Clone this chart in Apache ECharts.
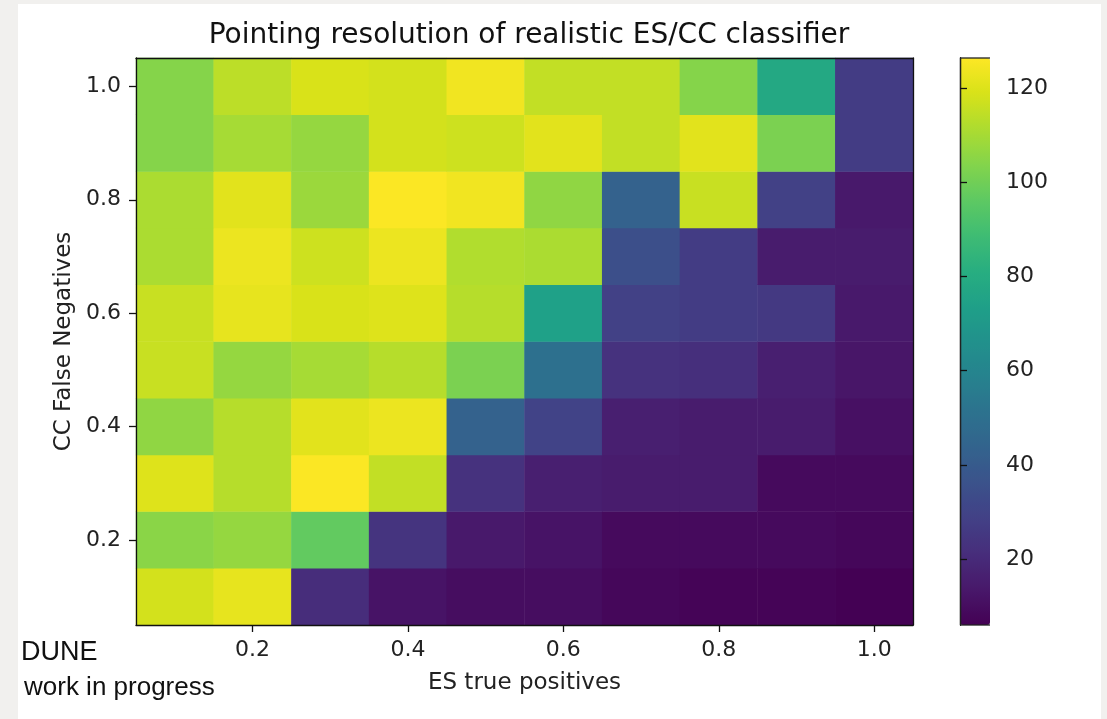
<!DOCTYPE html>
<html>
<head>
<meta charset="utf-8">
<script src="https://cdn.jsdelivr.net/npm/echarts@6/dist/echarts.min.js"></script>
<style>
  html, body { margin: 0; padding: 0; background: #f1f0ee; }
  #card { position: absolute; left: 18px; top: 4px; width: 1083px; height: 715px; background: #ffffff; }
  #chart { position: absolute; left: 0; top: 0; width: 1107px; height: 719px; }
</style>
</head>
<body>
<div id="card"></div>
<div id="chart"></div>
<script>
// ES true positives (x categories)
const xCats = ['0.1','0.2','0.3','0.4','0.5','0.6','0.7','0.8','0.9','1.0'];
// CC false negatives (y categories, bottom to top)
const yCats = ['0.1','0.2','0.3','0.4','0.5','0.6','0.7','0.8','0.9','1.0'];
// Pointing resolution values, one row per y category (bottom row first), columns follow xCats
const row01 = [118, 122, 21, 12, 10, 10, 8, 7, 7, 6];
const row02 = [105, 107, 97, 24, 14, 12, 9, 9, 9, 8];
const row03 = [120, 113, 126, 115, 23, 16, 15, 15, 9, 9];
const row04 = [106, 113, 121, 123, 43, 30, 16, 15, 15, 11];
const row05 = [116, 107, 110, 113, 102, 50, 23, 22, 16, 13];
const row06 = [116, 122, 119, 120, 113, 74, 29, 27, 26, 14];
const row07 = [111, 123, 117, 123, 112, 111, 35, 27, 15, 15];
const row08 = [111, 121, 108, 126, 124, 106, 43, 116, 29, 14];
const row09 = [104, 110, 107, 118, 117, 121, 115, 121, 102, 27];
const row10 = [104, 114, 119, 118, 124, 115, 115, 104, 78, 27];
const rows = [row01, row02, row03, row04, row05, row06, row07, row08, row09, row10];
// Colour bar
const cbMin = 6;
const cbMax = 126.4;
const cbTicks = [20, 40, 60, 80, 100, 120];
const viridis = ['#440154','#48186a','#472d7b','#424086','#3b528b','#33638d','#2c728e','#26828e','#21918c','#1fa088','#28ae80','#3fbc73','#5ec962','#84d44b','#addc30','#d8e219','#fde725'];

const data = [];
rows.forEach((r, yi) => r.forEach((v, xi) => data.push([xi, yi, v])));

const oddIdx = (i) => i % 2 === 1;
const tickFont = { fontFamily: 'DejaVu Sans', fontSize: 22, color: '#222' };

const chart = echarts.init(document.getElementById('chart'), null, { renderer: 'canvas' });
chart.setOption({
  animation: false,
  backgroundColor: 'transparent',
  title: {
    text: 'Pointing resolution of realistic ES/CC classifier',
    left: 524, top: 17, textAlign: 'center',
    textStyle: { fontFamily: 'DejaVu Sans', fontSize: 28, fontWeight: 'normal', color: '#111' }
  },
  grid: [
    { left: 136, right: 194, top: 58, bottom: 94 },
    { left: 960, width: 30, top: 58, height: 567 }
  ],
  xAxis: [
    {
      type: 'category', data: xCats, gridIndex: 0, z: 10,
      name: 'ES true positives', nameLocation: 'middle', nameGap: 47,
      nameTextStyle: { fontFamily: 'DejaVu Sans', fontSize: 23, color: '#222' },
      axisLine: { show: true, lineStyle: { color: '#111', width: 1.3 } },
      axisTick: { show: true, alignWithLabel: true, interval: oddIdx, length: 7, lineStyle: { color: '#111', width: 1.3 } },
      axisLabel: Object.assign({ interval: oddIdx, margin: 14 }, tickFont),
      splitLine: { show: false }
    },
    {
      type: 'category', data: xCats, gridIndex: 0, position: 'top', z: 10,
      axisLine: { show: true, lineStyle: { color: '#111', width: 1.3 } },
      axisTick: { show: false }, axisLabel: { show: false }, splitLine: { show: false }
    },
    { type: 'value', gridIndex: 1, show: false, min: 0, max: 1 }
  ],
  yAxis: [
    {
      type: 'category', data: yCats, gridIndex: 0, z: 10,
      name: 'CC False Negatives', nameLocation: 'middle', nameGap: 60, nameRotate: 90,
      nameTextStyle: { fontFamily: 'DejaVu Sans', fontSize: 23, color: '#222' },
      axisLine: { show: true, lineStyle: { color: '#111', width: 1.3 } },
      axisTick: { show: true, alignWithLabel: true, interval: oddIdx, length: 7, lineStyle: { color: '#111', width: 1.3 } },
      axisLabel: Object.assign({ interval: oddIdx, margin: 15 }, tickFont),
      splitLine: { show: false }
    },
    {
      type: 'category', data: yCats, gridIndex: 0, position: 'right', z: 10,
      axisLine: { show: true, lineStyle: { color: '#111', width: 1.3 } },
      axisTick: { show: false }, axisLabel: { show: false }, splitLine: { show: false }
    },
    {
      type: 'value', gridIndex: 1, position: 'right', min: cbMin, max: cbMax, z: 10,
      axisLine: { show: true, lineStyle: { color: '#222', width: 1.3 } },
      axisTick: { show: true, length: 7, customValues: cbTicks, lineStyle: { color: '#111', width: 1.3 } },
      axisLabel: Object.assign({ customValues: cbTicks, margin: 16 }, tickFont),
      splitLine: { show: false }
    },
    {
      type: 'value', gridIndex: 1, position: 'left', min: cbMin, max: cbMax, z: 10,
      axisLine: { show: true, lineStyle: { color: '#222', width: 1.3 } },
      axisTick: { show: false }, axisLabel: { show: false }, splitLine: { show: false }
    }
  ],
  visualMap: {
    type: 'continuous', min: cbMin, max: cbMax, calculable: false, show: true,
    seriesIndex: 0, orient: 'vertical', left: 960, top: 58, itemWidth: 30, itemHeight: 567,
    padding: 0, text: null, showLabel: false, hoverLink: false,
    inRange: { color: viridis }
  },
  graphic: [
    { type: 'line', shape: { x1: 960, y1: 58, x2: 990, y2: 58 }, style: { stroke: '#222', lineWidth: 1.3 }, z: 100 },
    { type: 'line', shape: { x1: 960, y1: 625, x2: 990, y2: 625 }, style: { stroke: '#222', lineWidth: 1.3 }, z: 100 },
    { type: 'text', left: 21, top: 639, style: { text: 'DUNE', font: '27px "Liberation Sans", Arial, sans-serif', fill: '#111' }, z: 100 },
    { type: 'text', left: 24, top: 675, style: { text: 'work in progress', font: '26px "Liberation Sans", Arial, sans-serif', fill: '#111' }, z: 100 }
  ],
  series: [{
    type: 'heatmap', xAxisIndex: 0, yAxisIndex: 0, data: data,
    itemStyle: { borderWidth: 0 },
    emphasis: { disabled: true }
  }]
});
</script>
</body>
</html>
